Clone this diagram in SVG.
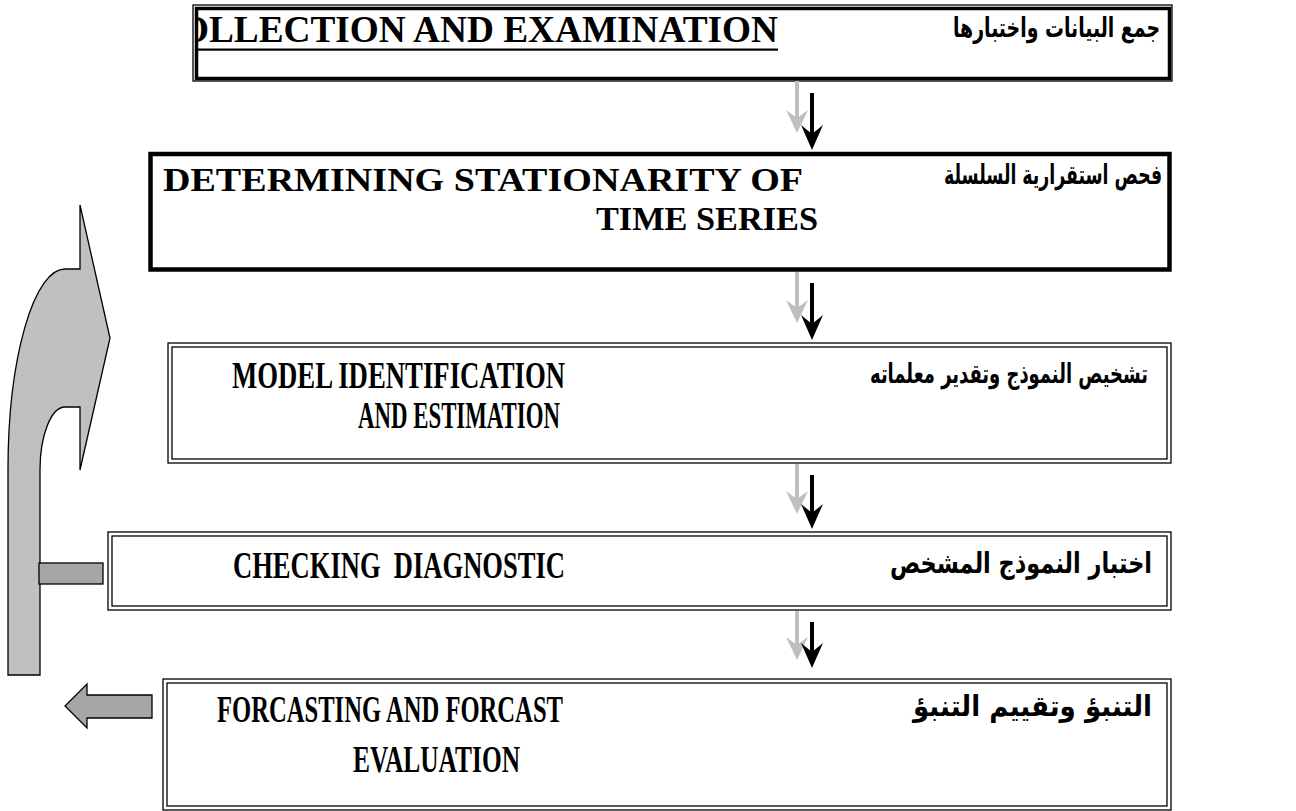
<svg xmlns="http://www.w3.org/2000/svg" width="1296" height="811" viewBox="0 0 1296 811">
<style>
.en{font-family:"Liberation Serif","Times New Roman",serif;font-weight:bold;fill:#000;white-space:pre}
.ar{font-family:"DejaVu Sans","Noto Sans",sans-serif;font-weight:bold;fill:#000}
.thin{fill:none;stroke:#000;stroke-width:1.3}
.thick{fill:none;stroke:#000;stroke-width:3.5}
.blk{stroke:#000;stroke-width:4;fill:none}
.gry{stroke:#bfbfbf;stroke-width:4;fill:none}
.hb{fill:#000}
.hg{fill:#bfbfbf}
</style>
<defs>
<clipPath id="c1"><rect x="198" y="10" width="970" height="67"/></clipPath>
</defs>
<rect width="1296" height="811" fill="#fff"/>

<g id="node1">
<rect class="thin" x="193" y="5" width="979" height="76"/>
<rect class="thick" x="196.5" y="8.5" width="973" height="70"/>
<g clip-path="url(#c1)">
<text class="en" x="153" y="42" font-size="38" textLength="625" lengthAdjust="spacingAndGlyphs">COLLECTION AND EXAMINATION</text>
<rect x="153" y="48.5" width="625" height="2.2" fill="#000"/>
</g>
<text class="ar" x="953" y="37" font-size="27" textLength="207" lengthAdjust="spacingAndGlyphs">جمع البيانات واختبارها</text>
</g>

<g id="node2">
<rect x="150.5" y="154" width="1019" height="115.5" fill="none" stroke="#000" stroke-width="4.5"/>
<text class="en" x="163" y="191" font-size="34" textLength="640" lengthAdjust="spacingAndGlyphs">DETERMINING STATIONARITY OF</text>
<text class="en" x="596" y="230" font-size="34" textLength="222" lengthAdjust="spacingAndGlyphs">TIME SERIES</text>
<text class="ar" x="944" y="184" font-size="27" textLength="218" lengthAdjust="spacingAndGlyphs">فحص استقرارية السلسلة</text>
</g>

<g id="node3">
<rect class="thin" x="168" y="343" width="1003" height="120"/>
<rect class="thin" x="172" y="347" width="995" height="112"/>
<text class="en" x="232" y="388" font-size="37" textLength="333" lengthAdjust="spacingAndGlyphs">MODEL IDENTIFICATION</text>
<text class="en" x="358" y="428" font-size="37" textLength="202" lengthAdjust="spacingAndGlyphs">AND ESTIMATION</text>
<text class="ar" x="870" y="383" font-size="27" textLength="278" lengthAdjust="spacingAndGlyphs">تشخيص النموذج وتقدير معلماته</text>
</g>

<g id="node4">
<rect class="thin" x="108" y="532" width="1063" height="78"/>
<rect class="thin" x="112" y="536" width="1055" height="70"/>
<text class="en" x="233" y="578" font-size="37" textLength="332" lengthAdjust="spacingAndGlyphs">CHECKING  DIAGNOSTIC</text>
<text class="ar" x="890" y="573" font-size="29" textLength="262" lengthAdjust="spacingAndGlyphs">اختبار النموذج المشخص</text>
</g>

<g id="node5">
<rect class="thin" x="163" y="679" width="1008" height="131"/>
<rect class="thin" x="167" y="683" width="1000" height="123"/>
<text class="en" x="217" y="722" font-size="37" textLength="346" lengthAdjust="spacingAndGlyphs">FORCASTING AND FORCAST</text>
<text class="en" x="353" y="772" font-size="37" textLength="167" lengthAdjust="spacingAndGlyphs">EVALUATION</text>
<text class="ar" x="913" y="716" font-size="29" textLength="239" lengthAdjust="spacingAndGlyphs">التنبؤ وتقييم التنبؤ</text>
</g>

<g id="feedback">
<path d="M80,205 L110,338 L80,470 L80,407 L65,407 A25,63 0 0 0 40,470 L40,675 L8,675 L8,470 A57,201 0 0 1 65,269 L80,269 Z" fill="#c0c0c0" stroke="#000" stroke-width="1.3"/>
<rect x="39" y="563" width="64" height="21" fill="#a6a6a6" stroke="#000" stroke-width="1.3"/>
<polygon points="65,706 87,684 87,695 152,695 152,718 87,718 87,728" fill="#a6a6a6" stroke="#000" stroke-width="1.3"/>
</g>

<g id="connectors">
<line class="gry" x1="797" y1="81" x2="797" y2="125"/>
<polygon class="hg" points="786,110 797,118 808,110 797,133"/>
<line class="blk" x1="812" y1="93" x2="812" y2="140"/>
<polygon class="hb" points="801,125 812,134 823,125 812,150"/>

<line class="gry" x1="797" y1="272" x2="797" y2="315"/>
<polygon class="hg" points="786,300 797,308 808,300 797,323"/>
<line class="blk" x1="812" y1="283" x2="812" y2="330"/>
<polygon class="hb" points="801,315 812,324 823,315 812,340"/>

<line class="gry" x1="797" y1="464" x2="797" y2="506"/>
<polygon class="hg" points="786,491 797,499 808,491 797,514"/>
<line class="blk" x1="812" y1="475" x2="812" y2="519"/>
<polygon class="hb" points="801,504 812,513 823,504 812,529"/>

<line class="gry" x1="797" y1="611" x2="797" y2="652"/>
<polygon class="hg" points="786,637 797,645 808,637 797,660"/>
<line class="blk" x1="812" y1="622" x2="812" y2="658"/>
<polygon class="hb" points="801,643 812,652 823,643 812,668"/>
</g>
</svg>
